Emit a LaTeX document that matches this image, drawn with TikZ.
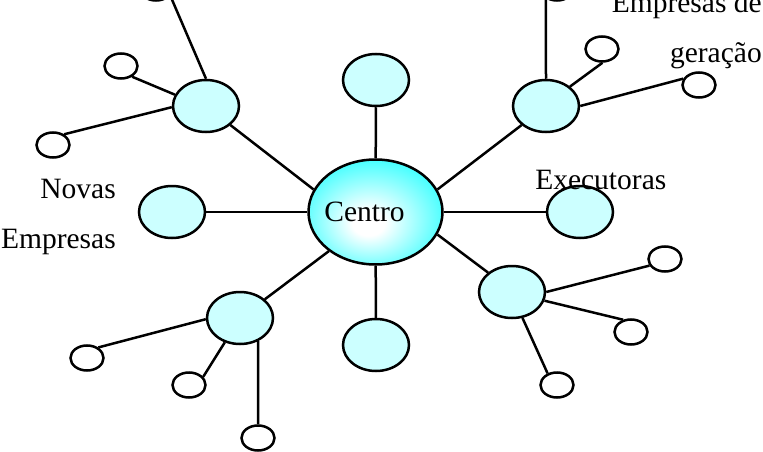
\documentclass[tikz,border=0pt]{standalone}
\usepackage{fontspec}
\setmainfont{Liberation Serif}
\usepackage{xcolor}
\usetikzlibrary{shapes,positioning}

\definecolor{hubcyan}{HTML}{00FFFF}
\definecolor{palecyan}{HTML}{CCFFFF}
\pgfdeclareradialshading{centroshade}{\pgfpoint{-3bp}{-6bp}}{color(0bp)=(white); color(6bp)=(white); color(36bp)=(hubcyan); color(50bp)=(hubcyan)}

\begin{document}
\begin{tikzpicture}[
    x=1pt, y=-1pt, line width=2.5pt,
    hub/.style={ellipse, draw, shading=centroshade, minimum width=134pt, minimum height=105pt, inner sep=0pt},
    branch/.style={ellipse, draw, fill=palecyan, minimum width=66pt, minimum height=52pt, inner sep=0pt},
    leaf/.style={ellipse, draw, fill=white, minimum width=33pt, minimum height=25pt, inner sep=0pt},
    tag/.style={inner sep=0pt, font=\fontsize{29.5}{50}\selectfont}
]
\useasboundingbox (0,0) rectangle (763,452);
\node[hub, label={[tag, xshift=-11pt]center:Centro}] (c) at (375.5,212) {};
\node[branch] (t) at (376,80) {};
\node[branch] (ul) at (206,106) {};
\node[branch] (ur) at (546,106) {};
\node[branch] (l) at (172,212) {};
\node[branch] (r) at (580,212) {};
\node[branch] (bl) at (240,318) {};
\node[branch] (lr) at (512,292) {};
\node[branch] (b) at (376,345) {};
\node[leaf] (ult) at (156,-12) {};
\node[leaf] (ul2) at (121,66) {};
\node[leaf] (ul3) at (53,145) {};
\node[leaf] (urt) at (557,-12) {};
\node[leaf] (ur2) at (602,49) {};
\node[leaf] (ur3) at (699,85) {};
\node[leaf] (bl2) at (87,358) {};
\node[leaf] (bl3) at (189,385) {};
\node[leaf] (bll) at (258,438) {};
\node[leaf] (lr2) at (665,259) {};
\node[leaf] (lr3) at (631,332) {};
\node[leaf] (lr4) at (557,385) {};
\draw (t) -- (c);
\draw (c) -- (b);
\draw (l) -- (c);
\draw (c) -- (r);
\draw (ul.-38) -- (c.160);
\draw (ur.-142) -- (c.20);
\draw (bl.37) -- (c.-140);
\draw (c.-20) -- (lr.141);
\draw (ul.90) -- (ult.-29);
\draw (ul.160) -- (ul2.-44);
\draw (ul.182) -- (ul3.44);
\draw (ur.90) -- (urt.-136);
\draw (ur.39) -- (ur2.-88);
\draw (ur.0) -- (ur3.158);
\draw (bl.182) -- (bl2.43);
\draw (bl.-122) -- (bl3.30);
\draw (bl.-52) -- (bll.north);
\draw (lr.0) -- (lr2.-157);
\draw (lr.-15) -- (lr3.123);
\draw (lr.-68) -- (lr4.129);
\node[tag, anchor=base east, align=right] (novas) at (117,248) {Novas\\Empresas};
\node[tag, anchor=base west] (exec) at (534,189) {Executoras};
\node[tag, anchor=base east, align=right] (geracao) at (763,63) {Empresas de\\geração};
\end{tikzpicture}
\end{document}
